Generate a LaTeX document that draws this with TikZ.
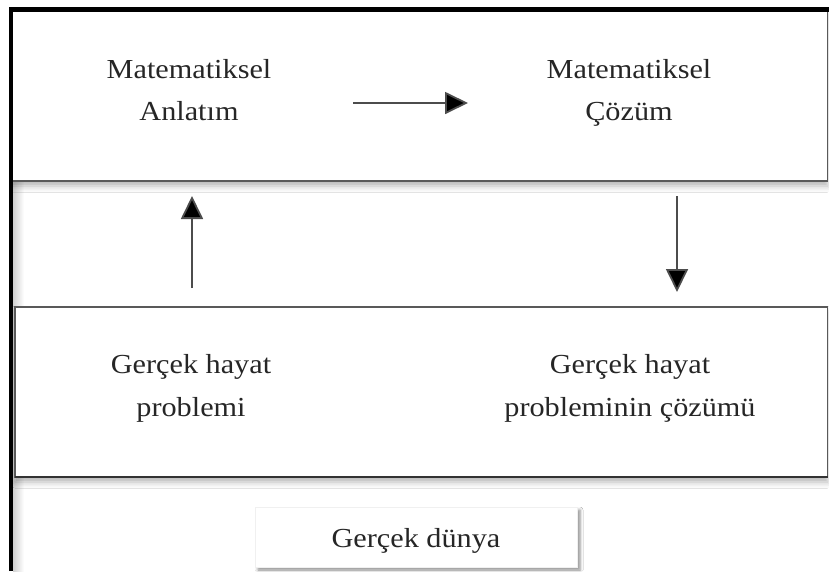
\documentclass[tikz,border=0pt]{standalone}
\usepackage{fontspec}
\setmainfont{Liberation Serif}[FakeStretch=1.1]
\usetikzlibrary{arrows.meta,shadows.blur}
\begin{document}
\begin{tikzpicture}[x=1pt,y=-1pt,
  lbl/.style={anchor=base,inner sep=0pt,font=\fontsize{27.5}{30}\selectfont,text=black!85},
  conn/.style={draw=black!70,line width=1.8pt,-{Triangle[length=23pt,width=22pt,fill=black]}},
  frameline/.style={draw=black,line width=4.5pt},
  boxline/.style={draw=black!65,line width=1.3pt}]
\useasboundingbox (0,0) rectangle (829,571);
\fill[white] (0,0) rectangle (829,571);
\begin{scope}
\clip (11,0) rectangle (829,571);
% inner shadow along the left side of the frame
\shade[left color=black!18,right color=white] (13,182) rectangle (24,571);
% upper panel
\draw[boxline,fill=white,blur shadow={shadow xshift=0pt,shadow yshift=-5pt,shadow blur radius=6pt,shadow opacity=30}] (11,9.5) rectangle (827.5,181);
% lower panel
\draw[boxline,fill=white,blur shadow={shadow xshift=0pt,shadow yshift=-5pt,shadow blur radius=6pt,shadow opacity=30}] (15,307) rectangle (827.5,477);
\end{scope}
\draw[draw=black!80,line width=2pt] (15,477) -- (827.5,477);
% outer frame
\draw[frameline] (11,571) -- (11,9.5) -- (829,9.5);
% Gerçek dünya box
\node (gd) [lbl,anchor=center,fill=white,draw=black!6,minimum width=322pt,minimum height=60pt,text height=20pt,text depth=0pt,
  blur shadow={shadow xshift=3pt,shadow yshift=-3pt,shadow blur radius=3pt,shadow opacity=45}] at (416,537) {Gerçek dünya};
% texts
\node (ma1) [lbl] at (189,78) {Matematiksel};
\node (ma2) [lbl] at (189,120) {Anlatım};
\node (mc1) [lbl] at (629,78) {Matematiksel};
\node (mc2) [lbl] at (629,120) {Çözüm};
\node (gh1) [lbl] at (191,373) {Gerçek hayat};
\node (gh2) [lbl] at (191,416) {problemi};
\node (gc1) [lbl] at (630,373) {Gerçek hayat};
\node (gc2) [lbl] at (630,416) {probleminin çözümü};
% arrow end points
\coordinate (h1) at (353,103);
\coordinate (h2) at (468,103);
\coordinate (u1) at (192,288);
\coordinate (u2) at (192,196);
\coordinate (d1) at (677,196);
\coordinate (d2) at (677,292);
\draw[conn] (h1) -- (h2);
\draw[conn] (u1) -- (u2);
\draw[conn] (d1) -- (d2);
\end{tikzpicture}
\end{document}
